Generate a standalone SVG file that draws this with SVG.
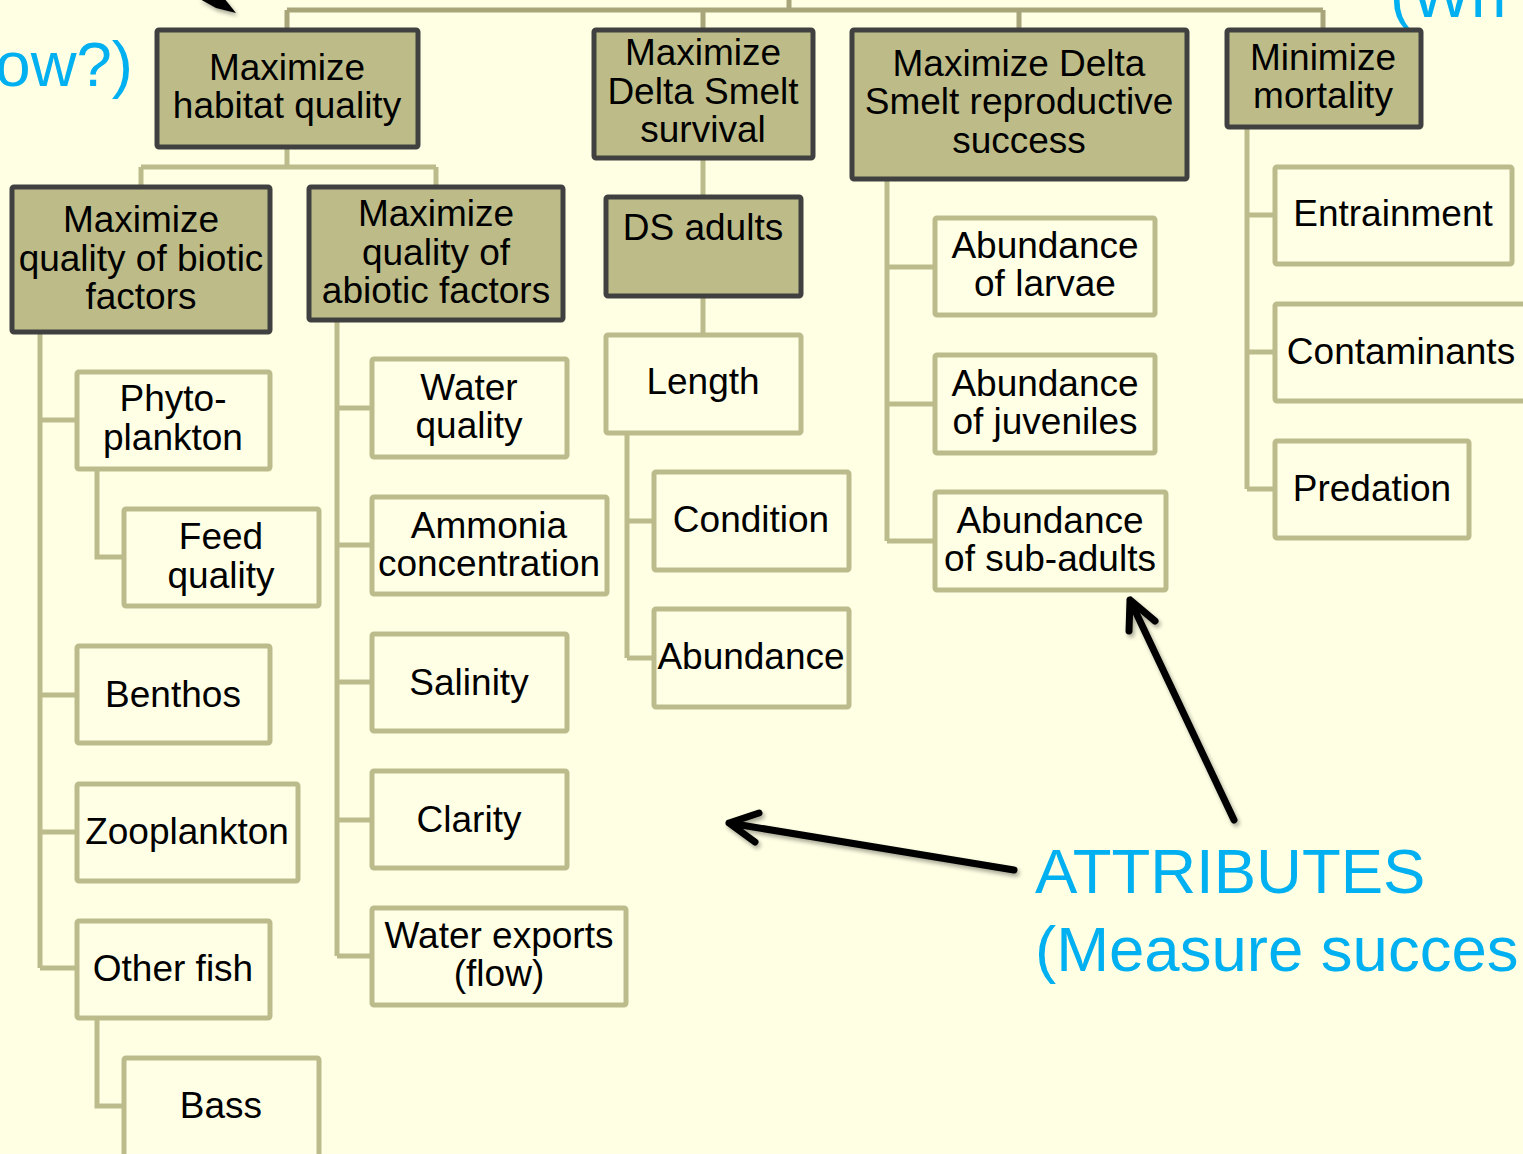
<svg xmlns="http://www.w3.org/2000/svg" width="1523" height="1154" viewBox="0 0 1523 1154">
<defs>
<style>
.bg{fill:#ffffe4}
.obj rect{fill:#bdbc88;stroke:#404040;stroke-width:5}
.att rect{fill:#ffffe6;stroke:#bcbb8c;stroke-width:5}
text{font-family:"Liberation Sans",Arial,sans-serif;font-size:37px;fill:#000;text-anchor:middle}
.top{fill:none;stroke:#a8a57b;stroke-width:5}
.con{fill:none;stroke:#bcbb8c;stroke-width:5}
.arr{fill:none;stroke:#000;stroke-width:7;stroke-linecap:round;stroke-linejoin:round}
.blue{fill:#00b0f0;font-size:63.5px;text-anchor:start}
</style>
<filter id="sh" x="-20%" y="-20%" width="140%" height="140%">
<feGaussianBlur in="SourceAlpha" stdDeviation="2"/>
<feOffset dx="2" dy="3" result="b"/>
<feComponentTransfer><feFuncA type="linear" slope="0.35"/></feComponentTransfer>
<feMerge><feMergeNode/><feMergeNode in="SourceGraphic"/></feMerge>
</filter>
</defs>
<rect class="bg" x="0" y="0" width="1523" height="1154"/>

<text class="blue" x="133" y="86" style="text-anchor:end">ow?)</text>
<text class="blue" x="1390" y="17">(Wh</text>

<g id="connectors">
<path class="top" d="M789,0 V10 M287,10 H1323 M287,10 V30 M703,10 V30 M1019,10 V30 M1323,10 V30"/>
<path class="con" d="M287,147 V167 M141,167 H436 M141,167 V187 M436,167 V187"/>
<path class="con" d="M40,332 V968 M40,420 H77 M40,695 H77 M40,832 H77 M40,968 H77"/>
<path class="con" d="M97,469 V557 H124 M97,1018 V1106 H124"/>
<path class="con" d="M337,320 V956 M337,408 H372 M337,545 H372 M337,682 H372 M337,820 H372 M337,956 H372"/>
<path class="con" d="M703,158 V197 M703,296 V335"/>
<path class="con" d="M627,433 V658 M627,521 H654 M627,658 H654"/>
<path class="con" d="M887,179 V541 M887,267 H935 M887,404 H935 M887,541 H935"/>
<path class="con" d="M1247,127 V489 M1247,215 H1275 M1247,352 H1275 M1247,489 H1275"/>
</g>

<g id="n-habitat" class="obj"><rect x="157" y="30" width="261" height="117" rx="2"/><text x="287" y="80">Maximize</text><text x="287" y="118">habitat quality</text></g>
<g id="n-survival" class="obj"><rect x="594" y="30" width="219" height="128" rx="2"/><text x="703" y="65">Maximize</text><text x="703" y="104">Delta Smelt</text><text x="703" y="142">survival</text></g>
<g id="n-repro" class="obj"><rect x="852" y="30" width="335" height="149" rx="2"/><text x="1019" y="76">Maximize Delta</text><text x="1019" y="114">Smelt reproductive</text><text x="1019" y="153">success</text></g>
<g id="n-mortality" class="obj"><rect x="1227" y="30" width="194" height="97" rx="2"/><text x="1323" y="70">Minimize</text><text x="1323" y="108">mortality</text></g>
<g id="n-biotic" class="obj"><rect x="12" y="187" width="258" height="145" rx="2"/><text x="141" y="232">Maximize</text><text x="141" y="271">quality of biotic</text><text x="141" y="309">factors</text></g>
<g id="n-abiotic" class="obj"><rect x="309" y="187" width="254" height="133" rx="2"/><text x="436" y="226">Maximize</text><text x="436" y="265">quality of</text><text x="436" y="303">abiotic factors</text></g>
<g id="n-dsadults" class="obj"><rect x="606" y="197" width="195" height="99" rx="2"/><text x="703" y="240">DS adults</text></g>

<g id="n-phyto" class="att"><rect x="77" y="372" width="193" height="97" rx="2"/><text x="173" y="411">Phyto-</text><text x="173" y="450">plankton</text></g>
<g id="n-feed" class="att"><rect x="124" y="509" width="195" height="97" rx="2"/><text x="221" y="549">Feed</text><text x="221" y="588">quality</text></g>
<g id="n-benthos" class="att"><rect x="77" y="646" width="193" height="97" rx="2"/><text x="173" y="707">Benthos</text></g>
<g id="n-zoo" class="att"><rect x="77" y="784" width="221" height="97" rx="2"/><text x="187" y="844">Zooplankton</text></g>
<g id="n-otherfish" class="att"><rect x="77" y="921" width="193" height="97" rx="2"/><text x="173" y="981">Other fish</text></g>
<g id="n-bass" class="att"><rect x="124" y="1058" width="195" height="100" rx="2"/><text x="221" y="1118">Bass</text></g>

<g id="n-waterq" class="att"><rect x="372" y="359" width="195" height="98" rx="2"/><text x="469" y="400">Water</text><text x="469" y="438">quality</text></g>
<g id="n-ammonia" class="att"><rect x="372" y="497" width="235" height="97" rx="2"/><text x="489" y="538">Ammonia</text><text x="489" y="576">concentration</text></g>
<g id="n-salinity" class="att"><rect x="372" y="634" width="195" height="97" rx="2"/><text x="469" y="695">Salinity</text></g>
<g id="n-clarity" class="att"><rect x="372" y="771" width="195" height="97" rx="2"/><text x="469" y="832">Clarity</text></g>
<g id="n-exports" class="att"><rect x="372" y="908" width="254" height="97" rx="2"/><text x="499" y="948">Water exports</text><text x="499" y="986">(flow)</text></g>

<g id="n-length" class="att"><rect x="606" y="335" width="195" height="98" rx="2"/><text x="703" y="394">Length</text></g>
<g id="n-condition" class="att"><rect x="654" y="472" width="195" height="98" rx="2"/><text x="751" y="532">Condition</text></g>
<g id="n-abundance" class="att"><rect x="654" y="609" width="195" height="98" rx="2"/><text x="751" y="669">Abundance</text></g>

<g id="n-larvae" class="att"><rect x="935" y="218" width="220" height="97" rx="2"/><text x="1045" y="258">Abundance</text><text x="1045" y="296">of larvae</text></g>
<g id="n-juveniles" class="att"><rect x="935" y="355" width="220" height="98" rx="2"/><text x="1045" y="396">Abundance</text><text x="1045" y="434">of juveniles</text></g>
<g id="n-subadults" class="att"><rect x="935" y="492" width="231" height="98" rx="2"/><text x="1050" y="533">Abundance</text><text x="1050" y="571">of sub-adults</text></g>

<g id="n-entrainment" class="att"><rect x="1275" y="167" width="237" height="97" rx="2"/><text x="1393" y="226">Entrainment</text></g>
<g id="n-contaminants" class="att"><rect x="1275" y="304" width="260" height="97" rx="2"/><text x="1401" y="364">Contaminants</text></g>
<g id="n-predation" class="att"><rect x="1275" y="441" width="194" height="97" rx="2"/><text x="1372" y="501">Predation</text></g>

<g id="arrows" filter="url(#sh)">
<path d="M198,-2 L224,-2 L236,13 L216,8 Z" fill="#000"/>
<path class="arr" d="M1014,870 L729,823 M759,813 L729,823 L755,842"/>
<path class="arr" d="M1234,820 L1130,600 M1129,631 L1130,600 L1155,621"/>
</g>

<text class="blue" x="1035" y="893">ATTRIBUTES</text>
<text class="blue" x="1035" y="971">(Measure succes</text>
</svg>
